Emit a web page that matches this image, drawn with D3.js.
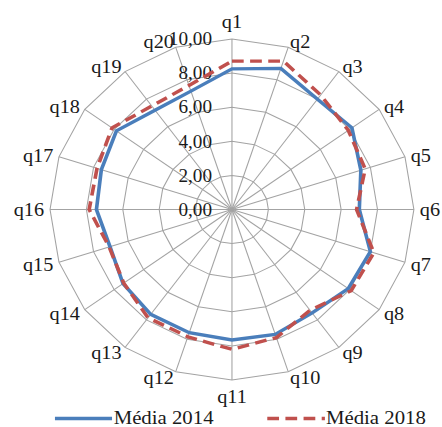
<!DOCTYPE html>
<html>
<head>
<meta charset="utf-8">
<script src="https://cdn.jsdelivr.net/npm/d3@7"></script>
<style>
  html, body { margin: 0; padding: 0; background: #fff; }
  svg { display: block; }
  text { font-family: "Liberation Serif", "Times New Roman", serif; fill: #1a1a1a; }
</style>
</head>
<body>
<svg id="chart"></svg>
<script>
// Questions around the radar
const categories = ["q1","q2","q3","q4","q5","q6","q7","q8","q9","q10",
                    "q11","q12","q13","q14","q15","q16","q17","q18","q19","q20"];
// Average score per question
const media2014 = [8.25, 8.7, 8.0, 8.15, 7.45, 7.0, 8.0, 7.9, 7.5, 7.7,
                   7.65, 7.6, 7.6, 7.4, 7.05, 7.45, 7.55, 7.85, 7.2, 7.3];
const media2018 = [8.7, 9.15, 8.3, 7.9, 7.7, 6.85, 8.2, 8.1, 7.3, 7.9,
                   8.2, 7.85, 7.85, 7.35, 7.1, 7.85, 7.8, 8.15, 7.5, 7.65];
const tickValues = [0, 2, 4, 6, 8, 10];
const tickLabels = ["0,00", "2,00", "4,00", "6,00", "8,00", "10,00"];
const seriesNames = ["Média 2014", "Média 2018"];

const W = 442, H = 427;
const stretch = 1.067;              // horizontal aspect of the drawing
const VW = W / stretch;

const svg = d3.select("#chart")
  .attr("width", W).attr("height", H)
  .attr("viewBox", `0 0 ${VW} ${H}`)
  .attr("preserveAspectRatio", "none");

const cx = 217.4, cy = 209.5, R = 170.5;
const r = d3.scaleLinear().domain([0, 10]).range([0, R]);
// Evenly spaced axes, clockwise from the top
const step = 2 * Math.PI / categories.length;
const ang = q => categories.indexOf(q) * step;

const g = svg.append("g").attr("transform", `translate(${cx},${cy})`);
const pt = (a, v) => [Math.sin(a) * r(v), -Math.cos(a) * r(v)];

const gridColor = "#a3a3a3";

// Ring polygons
g.selectAll("path.ring").data(tickValues.filter(v => v > 0)).join("path")
  .attr("class", "ring")
  .attr("d", v => d3.line()(categories.map(q => pt(ang(q), v))) + "Z")
  .attr("fill", "none").attr("stroke", gridColor).attr("stroke-width", 1);

// Spokes
g.selectAll("line.spoke").data(categories).join("line")
  .attr("class", "spoke")
  .attr("x1", 0).attr("y1", 0)
  .attr("x2", q => pt(ang(q), 10)[0])
  .attr("y2", q => pt(ang(q), 10)[1])
  .attr("stroke", gridColor).attr("stroke-width", 1);

// Value tick labels along the first axis
g.selectAll("text.tick").data(tickValues).join("text")
  .attr("class", "tick")
  .attr("x", -18.7)
  .attr("y", v => -r(v))
  .attr("text-anchor", "end")
  .attr("dominant-baseline", "central")
  .attr("font-size", 18)
  .text((v, i) => tickLabels[i]);

// Category labels
g.selectAll("text.cat").data(categories).join("text")
  .attr("class", "cat")
  .attr("font-size", 19)
  .attr("dominant-baseline", "central")
  .each(function(q) {
    const a = ang(q);
    const s = Math.sin(a), c = Math.cos(a);
    const [ox, oy] = pt(a, 10);
    const t = d3.select(this);
    if (Math.abs(s) < 0.01) {
      t.attr("text-anchor", "middle")
       .attr("x", ox)
       .attr("y", oy + (c > 0 ? -18 : 16.5));
    } else {
      t.attr("text-anchor", s > 0 ? "start" : "end")
       .attr("x", ox + 5.6 * s)
       .attr("y", oy - 6 * c);
    }
  })
  .text(q => q);

// Series
const radarLine = d3.lineRadial()
  .angle((d, i) => i * step)
  .radius(d => r(d))
  .curve(d3.curveLinearClosed);

g.append("path").datum(media2014)
  .attr("d", radarLine)
  .attr("fill", "none").attr("stroke", "#4a7ebb")
  .attr("stroke-width", 3.4).attr("stroke-linejoin", "miter");

g.append("path").datum(media2018)
  .attr("d", radarLine)
  .attr("fill", "none").attr("stroke", "#c0504d")
  .attr("stroke-width", 3.4).attr("stroke-dasharray", "11,6");

// Legend
const legend = svg.append("g");
legend.append("line")
  .attr("x1", 51.5).attr("x2", 105).attr("y1", 418.5).attr("y2", 418.5)
  .attr("stroke", "#4a7ebb").attr("stroke-width", 3.4);
legend.append("text")
  .attr("x", 106.5).attr("y", 424).attr("font-size", 19.5)
  .text(seriesNames[0]);
legend.append("line")
  .attr("x1", 250.5).attr("x2", 304.5).attr("y1", 418.5).attr("y2", 418.5)
  .attr("stroke", "#c0504d").attr("stroke-width", 3.4)
  .attr("stroke-dasharray", "11,6");
legend.append("text")
  .attr("x", 305.5).attr("y", 424).attr("font-size", 19.5)
  .text(seriesNames[1]);
</script>
</body>
</html>
